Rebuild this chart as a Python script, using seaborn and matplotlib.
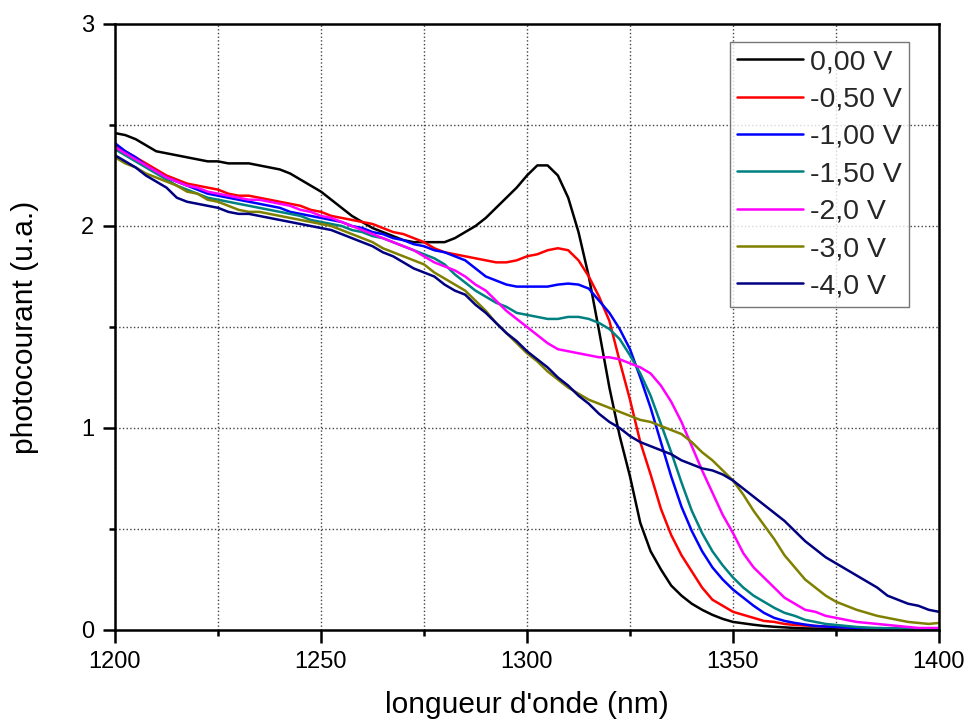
import numpy as np
import pandas as pd
import seaborn as sns
import matplotlib.pyplot as plt
from matplotlib.ticker import MultipleLocator

# wavelength grid (nm), 2.5 nm steps from 1200 to 1400
wavelength = [1200 + 2.5 * i for i in range(81)]

v_0_00 = [2.46, 2.45, 2.43, 2.40, 2.37, 2.36, 2.35, 2.34, 2.33, 2.32,
          2.32, 2.31, 2.31, 2.31, 2.30, 2.29, 2.28, 2.26, 2.23, 2.20,
          2.17, 2.13, 2.09, 2.05, 2.02, 1.99, 1.97, 1.95, 1.93, 1.92,
          1.92, 1.92, 1.92, 1.94, 1.97, 2.00, 2.04, 2.09, 2.14, 2.19,
          2.25, 2.30, 2.30, 2.25, 2.14, 1.97, 1.75, 1.48, 1.20, 0.96,
          0.76, 0.53, 0.39, 0.30, 0.22, 0.17, 0.13, 0.10, 0.075, 0.055,
          0.04, 0.033, 0.026, 0.02, 0.016, 0.013, 0.01, 0.008, 0.007, 0.006,
          0.005, 0.004, 0.003, 0.003, 0.002, 0.002, 0.002, 0.001, 0.001, 0.001,
          0.001]
v_0_50 = [2.40, 2.37, 2.34, 2.31, 2.28, 2.25, 2.23, 2.21, 2.20, 2.19,
          2.18, 2.16, 2.15, 2.15, 2.14, 2.13, 2.12, 2.11, 2.10, 2.08,
          2.07, 2.05, 2.04, 2.03, 2.02, 2.01, 1.99, 1.97, 1.96, 1.94,
          1.92, 1.89, 1.87, 1.86, 1.85, 1.84, 1.83, 1.82, 1.82, 1.83,
          1.85, 1.86, 1.88, 1.89, 1.88, 1.83, 1.75, 1.65, 1.53, 1.33,
          1.14, 0.93, 0.77, 0.60, 0.47, 0.37, 0.29, 0.21, 0.15, 0.12,
          0.09, 0.075, 0.06, 0.045, 0.04, 0.03, 0.025, 0.022, 0.02, 0.017,
          0.015, 0.012, 0.01, 0.009, 0.008, 0.007, 0.006, 0.006, 0.005, 0.005,
          0.005]
v_1_00 = [2.41, 2.37, 2.34, 2.30, 2.27, 2.24, 2.22, 2.20, 2.18, 2.16,
          2.15, 2.14, 2.13, 2.12, 2.11, 2.10, 2.09, 2.07, 2.06, 2.05,
          2.04, 2.03, 2.02, 2.00, 1.99, 1.97, 1.96, 1.94, 1.93, 1.91,
          1.90, 1.88, 1.87, 1.85, 1.83, 1.79, 1.75, 1.73, 1.71, 1.70,
          1.70, 1.70, 1.70, 1.71, 1.715, 1.71, 1.69, 1.63, 1.57, 1.49,
          1.39, 1.25, 1.10, 0.93, 0.76, 0.61, 0.49, 0.39, 0.31, 0.25,
          0.20, 0.16, 0.12, 0.085, 0.06, 0.045, 0.035, 0.027, 0.02, 0.017,
          0.015, 0.012, 0.01, 0.009, 0.008, 0.007, 0.006, 0.006, 0.005, 0.005,
          0.005]
v_1_50 = [2.38, 2.35, 2.32, 2.29, 2.26, 2.23, 2.20, 2.18, 2.16, 2.14,
          2.13, 2.12, 2.11, 2.10, 2.09, 2.08, 2.07, 2.06, 2.05, 2.03,
          2.02, 2.01, 2.00, 1.98, 1.97, 1.95, 1.94, 1.92, 1.90, 1.88,
          1.86, 1.84, 1.81, 1.76, 1.72, 1.68, 1.65, 1.62, 1.60, 1.57,
          1.56, 1.55, 1.54, 1.54, 1.55, 1.55, 1.54, 1.52, 1.49, 1.44,
          1.36, 1.27, 1.16, 1.02, 0.88, 0.73, 0.59, 0.48, 0.39, 0.32,
          0.26, 0.21, 0.17, 0.14, 0.11, 0.085, 0.07, 0.05, 0.04, 0.03,
          0.025, 0.02, 0.015, 0.012, 0.01, 0.009, 0.008, 0.007, 0.006, 0.005,
          0.005]
v_2_0 = [2.39, 2.36, 2.33, 2.30, 2.27, 2.24, 2.22, 2.20, 2.19, 2.17,
         2.16, 2.15, 2.14, 2.13, 2.13, 2.12, 2.11, 2.10, 2.08, 2.07,
         2.05, 2.04, 2.02, 2.00, 1.98, 1.96, 1.94, 1.92, 1.90, 1.88,
         1.85, 1.82, 1.80, 1.78, 1.75, 1.71, 1.68, 1.63, 1.58, 1.54,
         1.50, 1.46, 1.42, 1.39, 1.38, 1.37, 1.36, 1.35, 1.35, 1.34,
         1.32, 1.30, 1.27, 1.21, 1.13, 1.03, 0.91, 0.79, 0.68, 0.57,
         0.48, 0.38, 0.31, 0.26, 0.21, 0.16, 0.13, 0.10, 0.09, 0.07,
         0.06, 0.05, 0.04, 0.035, 0.03, 0.025, 0.02, 0.015, 0.01, 0.01,
         0.01]
v_3_0 = [2.34, 2.31, 2.29, 2.26, 2.24, 2.22, 2.20, 2.17, 2.16, 2.13,
         2.12, 2.10, 2.08, 2.07, 2.07, 2.06, 2.05, 2.04, 2.03, 2.02,
         2.01, 2.00, 1.98, 1.96, 1.94, 1.92, 1.89, 1.87, 1.85, 1.83,
         1.81, 1.77, 1.74, 1.71, 1.68, 1.63, 1.58, 1.52, 1.47, 1.42,
         1.37, 1.33, 1.28, 1.24, 1.20, 1.17, 1.14, 1.12, 1.10, 1.08,
         1.06, 1.04, 1.03, 1.01, 0.99, 0.97, 0.93, 0.88, 0.84, 0.79,
         0.74, 0.67, 0.59, 0.52, 0.45, 0.37, 0.31, 0.25, 0.21, 0.17,
         0.14, 0.12, 0.10, 0.085, 0.07, 0.06, 0.05, 0.04, 0.035, 0.03,
         0.035]
v_4_0 = [2.35, 2.32, 2.29, 2.25, 2.22, 2.19, 2.14, 2.12, 2.11, 2.10,
         2.09, 2.07, 2.06, 2.06, 2.05, 2.04, 2.03, 2.02, 2.01, 2.00,
         1.99, 1.98, 1.96, 1.94, 1.92, 1.90, 1.87, 1.85, 1.82, 1.79,
         1.77, 1.75, 1.71, 1.68, 1.66, 1.61, 1.57, 1.52, 1.47, 1.43,
         1.38, 1.34, 1.30, 1.25, 1.21, 1.16, 1.12, 1.07, 1.03, 1.00,
         0.96, 0.93, 0.91, 0.89, 0.87, 0.84, 0.82, 0.80, 0.79, 0.77,
         0.74, 0.70, 0.66, 0.62, 0.58, 0.54, 0.49, 0.44, 0.40, 0.36,
         0.33, 0.30, 0.27, 0.24, 0.21, 0.17, 0.15, 0.13, 0.12, 0.10,
         0.09]

labels = ['0,00 V', '-0,50 V', '-1,00 V', '-1,50 V', '-2,0 V', '-3,0 V', '-4,0 V']
series = [v_0_00, v_0_50, v_1_00, v_1_50, v_2_0, v_3_0, v_4_0]
colors = ['#000000', '#ff0000', '#0000ff', '#008080', '#ff00ff', '#808000', '#000080']

df = pd.concat([
    pd.DataFrame({'wl': wavelength, 'pc': vals, 'bias': lab})
    for lab, vals in zip(labels, series)
])

sns.set_theme(style='white')
plt.rcParams['font.family'] = ['Liberation Sans', 'DejaVu Sans']

fig = plt.figure(figsize=(9.71, 7.26), dpi=100)
ax = fig.add_axes([115 / 971, 96 / 726, 824 / 971, 606 / 726])

sns.lineplot(data=df, x='wl', y='pc', hue='bias', hue_order=labels,
             palette=colors, linewidth=1.8, ax=ax)

ax.set_xlim(1200, 1400)
ax.set_ylim(0, 3)
ax.xaxis.set_major_locator(MultipleLocator(50))
ax.xaxis.set_minor_locator(MultipleLocator(25))
ax.yaxis.set_major_locator(MultipleLocator(1))
ax.yaxis.set_minor_locator(MultipleLocator(0.5))
ax.grid(True, which='both', linestyle=':', color='#444444', linewidth=1.0)
ax.set_axisbelow(True)

for s in ax.spines.values():
    s.set_visible(True)
    s.set_color('black')
    s.set_linewidth(1.8)
ax.tick_params(which='major', direction='out', length=9, width=1.8,
               labelsize=17, color='black', labelcolor='black', left=True,
               bottom=True, top=False, right=False, pad=6)
ax.tick_params(which='minor', direction='out', length=4.5, width=1.8,
               color='black', left=True, bottom=True, top=False, right=False)

ax.set_xlabel("longueur d'onde (nm)", fontsize=21.5, labelpad=13,
              color='black')
ax.set_ylabel('photocourant (u.a.)', fontsize=21.5, labelpad=30,
              color='black')

leg = ax.legend(loc='upper right', bbox_to_anchor=(794 / 824, 588 / 606),
                borderaxespad=0, fontsize=20.5, handlelength=2.3,
                labelspacing=0.4, handletextpad=0.25, borderpad=0.25,
                frameon=True, fancybox=False, edgecolor='#555555')
leg.get_frame().set_linewidth(1.0)

fig.savefig('out.png', dpi=100)
